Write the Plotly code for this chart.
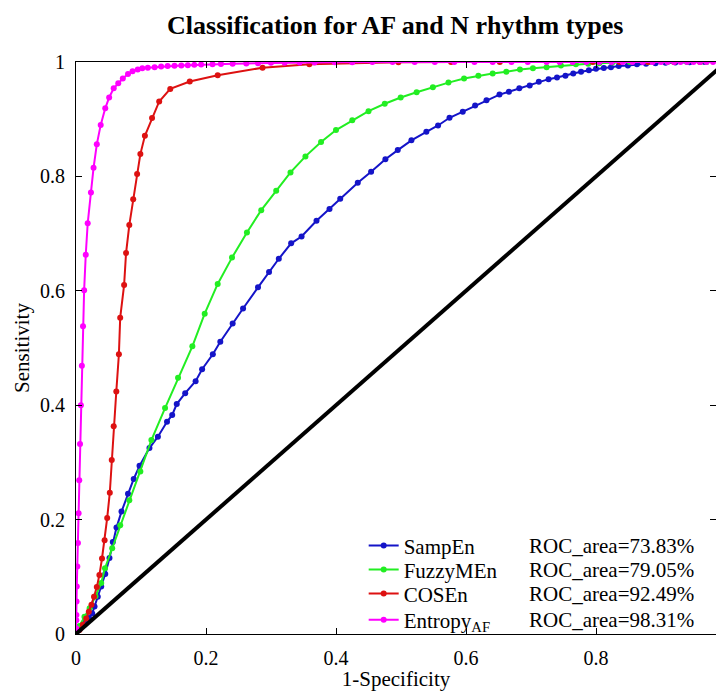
import plotly.graph_objects as go

# 1-Specificity (x) and Sensitivity (y) for each method
samp_fpr = [0, 0.004, 0.0085, 0.0146, 0.020, 0.025, 0.0285, 0.0335, 0.0388, 0.045, 0.0515,
            0.0566, 0.0623, 0.070, 0.080, 0.0888, 0.0977, 0.113, 0.126, 0.140, 0.148, 0.155,
            0.168, 0.184, 0.194, 0.2105, 0.222, 0.241, 0.257, 0.280, 0.297, 0.312, 0.331,
            0.347, 0.370, 0.390, 0.4065, 0.4335, 0.454, 0.476, 0.495, 0.516, 0.539, 0.557,
            0.5746, 0.595, 0.614, 0.6315, 0.6515, 0.666, 0.682, 0.698, 0.712, 0.727, 0.740,
            0.753, 0.765, 0.777, 0.789, 0.800, 0.812, 0.823, 0.835, 0.849, 0.863, 0.877,
            0.8915, 0.907, 0.922, 0.944, 0.967, 1.0]
samp_tpr = [0, 0.007, 0.014, 0.024, 0.028, 0.036, 0.048, 0.065, 0.083, 0.105, 0.133,
            0.161, 0.186, 0.214, 0.245, 0.271, 0.294, 0.325, 0.345, 0.371, 0.383, 0.402,
            0.421, 0.442, 0.463, 0.489, 0.511, 0.543, 0.569, 0.606, 0.633, 0.656, 0.683,
            0.695, 0.7225, 0.743, 0.761, 0.789, 0.808, 0.830, 0.846, 0.863, 0.878, 0.889,
            0.9025, 0.913, 0.924, 0.933, 0.943, 0.948, 0.954, 0.959, 0.9655, 0.970, 0.973,
            0.976, 0.980, 0.983, 0.9855, 0.988, 0.9895, 0.991, 0.993, 0.994, 0.996, 0.997,
            0.998, 0.9988, 0.9993, 0.9997, 1.0, 1.0]

fuzzy_fpr = [0, 0.0054, 0.013, 0.021, 0.030, 0.0388, 0.0446, 0.0557, 0.068, 0.082, 0.099,
             0.116, 0.137, 0.157, 0.179, 0.198, 0.218, 0.240, 0.263, 0.285, 0.308, 0.330,
             0.353, 0.377, 0.400, 0.425, 0.450, 0.475, 0.4995, 0.524, 0.549, 0.573, 0.597,
             0.619, 0.641, 0.662, 0.683, 0.703, 0.724, 0.746, 0.769, 0.788, 0.805, 0.825,
             0.852, 0.88, 0.91, 0.94, 0.97, 1.0]
fuzzy_tpr = [0, 0.014, 0.030, 0.045, 0.066, 0.089, 0.115, 0.150, 0.190, 0.234, 0.284,
             0.339, 0.395, 0.448, 0.503, 0.560, 0.612, 0.658, 0.702, 0.741, 0.775, 0.807,
             0.835, 0.860, 0.881, 0.898, 0.914, 0.927, 0.938, 0.947, 0.956, 0.964, 0.971,
             0.976, 0.980, 0.983, 0.987, 0.989, 0.991, 0.994, 0.996, 0.997, 0.998, 0.999,
             1.0, 1.0, 1.0, 1.0, 1.0, 1.0]

cos_fpr = [0, 0.0054, 0.0105, 0.0157, 0.0197, 0.0238, 0.0277, 0.032, 0.036, 0.040, 0.044,
           0.048, 0.052, 0.055, 0.058, 0.062, 0.066, 0.068, 0.074, 0.077, 0.082, 0.088,
           0.094, 0.099, 0.106, 0.117, 0.128, 0.145, 0.175, 0.218, 0.287, 0.359, 0.496,
           0.577, 0.652, 0.795, 0.836, 0.88, 0.92, 0.96, 1.0]
cos_tpr = [0, 0.007, 0.016, 0.027, 0.039, 0.051, 0.065, 0.082, 0.103, 0.132, 0.164,
           0.203, 0.247, 0.304, 0.363, 0.424, 0.489, 0.553, 0.610, 0.666, 0.715, 0.760,
           0.804, 0.839, 0.871, 0.902, 0.931, 0.953, 0.966, 0.977, 0.990, 0.996, 0.9995,
           1.0, 1.0, 1.0, 1.0, 1.0, 1.0, 1.0, 1.0]

ent_fpr = [0, 0.0003, 0.0005, 0.0006, 0.0008, 0.0012, 0.0020, 0.0030, 0.0040, 0.0050,
           0.0062, 0.0075, 0.0090, 0.0108, 0.0125, 0.0150, 0.018, 0.023, 0.027, 0.032,
           0.038, 0.045, 0.051, 0.058, 0.065, 0.072, 0.080, 0.087, 0.095, 0.102, 0.1105,
           0.121, 0.131, 0.141, 0.1515, 0.162, 0.172, 0.182, 0.1925, 0.210, 0.223, 0.241,
           0.262, 0.280, 0.300, 0.321, 0.344, 0.367, 0.398, 0.425, 0.456, 0.487, 0.521,
           0.552, 0.582, 0.613, 0.641, 0.670, 0.695, 0.724, 0.744, 0.764, 0.785, 0.805,
           0.824, 0.841, 0.856, 0.872, 0.887, 0.90, 0.91, 0.92, 0.93, 0.94, 0.95, 0.96,
           0.97, 0.98, 0.99, 1.0]
ent_tpr = [0, 0.010, 0.024, 0.033, 0.057, 0.083, 0.118, 0.159, 0.211, 0.269,
           0.332, 0.400, 0.469, 0.538, 0.601, 0.663, 0.718, 0.772, 0.815, 0.856,
           0.890, 0.919, 0.938, 0.954, 0.963, 0.971, 0.979, 0.984, 0.987, 0.989, 0.990,
           0.991, 0.992, 0.993, 0.9935, 0.994, 0.9945, 0.995, 0.9955, 0.996, 0.9965, 0.997,
           0.9975, 0.998, 0.9985, 0.9988, 0.999, 0.9993, 0.9995, 0.9997, 1.0, 1.0, 1.0,
           1.0, 1.0, 1.0, 1.0, 1.0, 1.0, 1.0, 1.0, 1.0, 1.0, 1.0,
           1.0, 1.0, 1.0, 1.0, 1.0, 1.0, 1.0, 1.0, 1.0, 1.0, 1.0, 1.0,
           1.0, 1.0, 1.0, 1.0]

names = ["SampEn", "FuzzyMEn", "COSEn", "Entropy<sub>AF</sub>"]
roc_area = ["73.83%", "79.05%", "92.49%", "98.31%"]
colors = ["#1414c8", "#22ee22", "#dd1111", "#ff00ff"]

FONT = "Liberation Serif, Times New Roman, serif"

fig = go.Figure()

# one legend per row so the rows sit level with the ROC_area notes
row_y = [0.154, 0.112, 0.070, 0.0245]
legend_ids = ["legend", "legend2", "legend3", "legend4"]

curves = [(samp_fpr, samp_tpr), (fuzzy_fpr, fuzzy_tpr), (cos_fpr, cos_tpr), (ent_fpr, ent_tpr)]
for (x, y), name, c, lg in zip(curves, names, colors, legend_ids):
    fig.add_trace(go.Scatter(x=x, y=y, mode="lines+markers", name=name, legend=lg,
                             line=dict(color=c, width=2),
                             marker=dict(color=c, size=6)))

# chance line
fig.add_trace(go.Scatter(x=[0, 1], y=[0, 1], mode="lines", showlegend=False,
                         line=dict(color="black", width=4)))

for area, ly in zip(roc_area, row_y):
    fig.add_annotation(x=0.705, y=ly, xref="paper", yref="paper", xanchor="left",
                       yanchor="middle", showarrow=False, text="ROC_area=" + area,
                       font=dict(family=FONT, size=21, color="black"))

legend_style = dict(x=0.4495, xanchor="left", yanchor="middle", bgcolor="rgba(0,0,0,0)",
                    font=dict(family=FONT, size=21, color="black"))

fig.update_layout(
    width=708, height=683,
    paper_bgcolor="white", plot_bgcolor="white",
    margin=dict(l=68, r=0, t=54, b=57),
    font=dict(family=FONT, size=20, color="black"),
    title=dict(text="<b>Classification for AF and N rhythm types</b>", x=0.547, xanchor="center",
               y=0.975, yanchor="middle", font=dict(family=FONT, size=26, color="black")),
    legend=dict(y=row_y[0], **legend_style),
    legend2=dict(y=row_y[1], **legend_style),
    legend3=dict(y=row_y[2], **legend_style),
    legend4=dict(y=row_y[3], **legend_style),
)
fig.update_xaxes(range=[0, 0.9846], tickvals=[0, 0.2, 0.4, 0.6, 0.8], showgrid=False, zeroline=False,
                 showline=True, linecolor="black", linewidth=1, mirror="ticks",
                 ticks="inside", ticklen=6, tickcolor="black", tickfont=dict(size=20),
                 ticklabelstandoff=6,
                 title=dict(text="1-Specificity", standoff=8, font=dict(size=21)))
fig.update_yaxes(range=[0, 1], tickvals=[0, 0.2, 0.4, 0.6, 0.8, 1], showgrid=False, zeroline=False,
                 showline=True, linecolor="black", linewidth=1, mirror="ticks",
                 ticks="inside", ticklen=6, tickcolor="black", tickfont=dict(size=20),
                 ticklabelstandoff=6,
                 title=dict(text="Sensitivity", standoff=4, font=dict(size=21)))

fig.write_html("out.html")
